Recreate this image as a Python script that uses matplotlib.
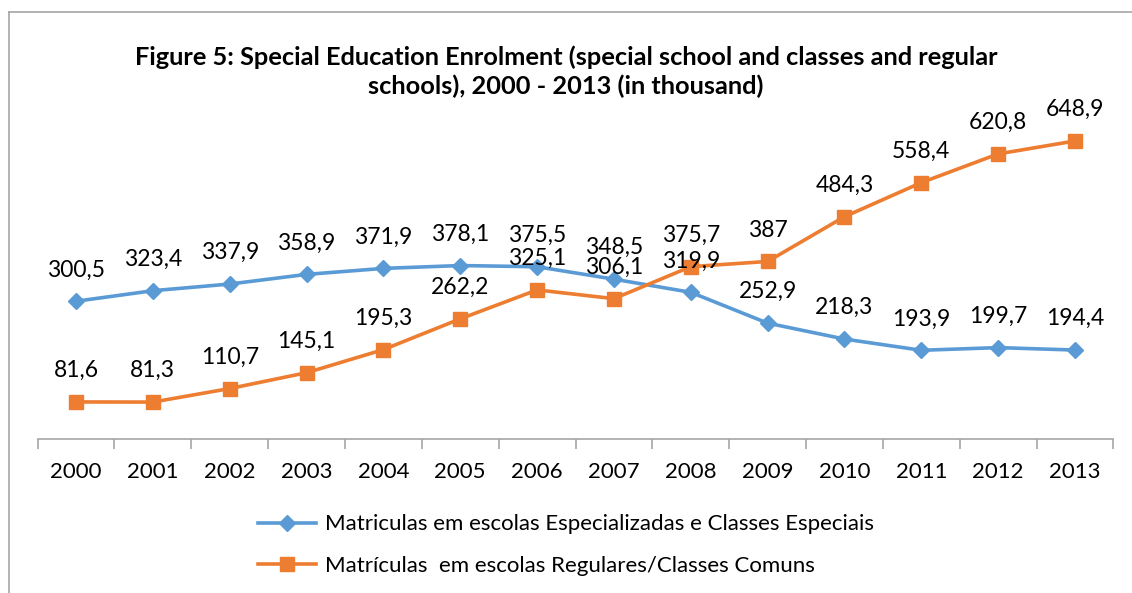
from matplotlib import pyplot as plt
from matplotlib.lines import Line2D
import numpy as np

plt.rcParams['font.family'] = ['Lato', 'DejaVu Sans']

years = [2000, 2001, 2002, 2003, 2004, 2005, 2006, 2007, 2008, 2009, 2010, 2011, 2012, 2013]
especiais = [300.5, 323.4, 337.9, 358.9, 371.9, 378.1, 375.5, 348.5, 319.9, 252.9, 218.3, 193.9, 199.7, 194.4]
regulares = [81.6, 81.3, 110.7, 145.1, 195.3, 262.2, 325.1, 306.1, 375.7, 387, 484.3, 558.4, 620.8, 648.9]

label_esp = 'Matriculas em escolas Especializadas e Classes Especiais'
label_reg = 'Matrículas  em escolas Regulares/Classes Comuns'

blue = '#5B9BD5'
orange = '#ED7D31'

fig = plt.figure(figsize=(11.32, 5.93), dpi=100)
ax = fig.add_axes([0.0332, 0.2589, 0.9504, 0.543])

idx = np.arange(len(years))
ax.plot(idx, especiais, color=blue, lw=2.6, marker='D', ms=8.5, label=label_esp)
ax.plot(idx, regulares, color=orange, lw=2.6, marker='s', ms=9.5, label=label_reg)

def fmt(v):
    s = ('%.1f' % v).rstrip('0').rstrip('.')
    return s.replace('.', ',')

for series in (especiais, regulares):
    for i, v in zip(idx, series):
        ax.annotate(fmt(v), (i, v), xytext=(0, 15), textcoords='offset points',
                    ha='center', va='bottom', fontsize=16.5)

ax.set_xlim(-0.5, len(years) - 0.5)
ax.set_ylim(0, 700)
ax.set_yticks([])
for s in ('top', 'right', 'left'):
    ax.spines[s].set_visible(False)
ax.spines['bottom'].set_color('#A6A6A6')
ax.spines['bottom'].set_linewidth(1.2)

ax.set_xticks(np.arange(-0.5, len(years)), minor=True)
ax.set_xticks(idx)
ax.set_xticklabels(years, fontsize=16)
ax.tick_params(axis='x', which='major', length=0, pad=16)
ax.tick_params(axis='x', which='minor', length=7, width=1.2, color='#A6A6A6')

fig.text(0.5, 0.879, 'Figure 5: Special Education Enrolment (special school and classes and regular\nschools), 2000 - 2013 (in thousand)',
         ha='center', va='center', fontsize=18.3, fontweight='bold', linespacing=1.3)

handles = [Line2D([], [], color=blue, lw=2.6, marker='D', ms=8.5),
           Line2D([], [], color=orange, lw=2.6, marker='s', ms=9.5)]
fig.legend(handles, [label_esp, label_reg], loc='center', bbox_to_anchor=(0.5, 0.081),
           ncol=1, frameon=False, fontsize=16, handlelength=2.6, labelspacing=0.95,
           handletextpad=0.4)

# chart frame
fig.add_artist(Line2D([9 / 1132, 1.0], [1 - 12 / 593, 1 - 12 / 593], color='#A6A6A6', lw=1.2))
fig.add_artist(Line2D([9 / 1132, 9 / 1132], [0, 1 - 12 / 593], color='#A6A6A6', lw=1.2))

plt.savefig('out.png', dpi=100)
